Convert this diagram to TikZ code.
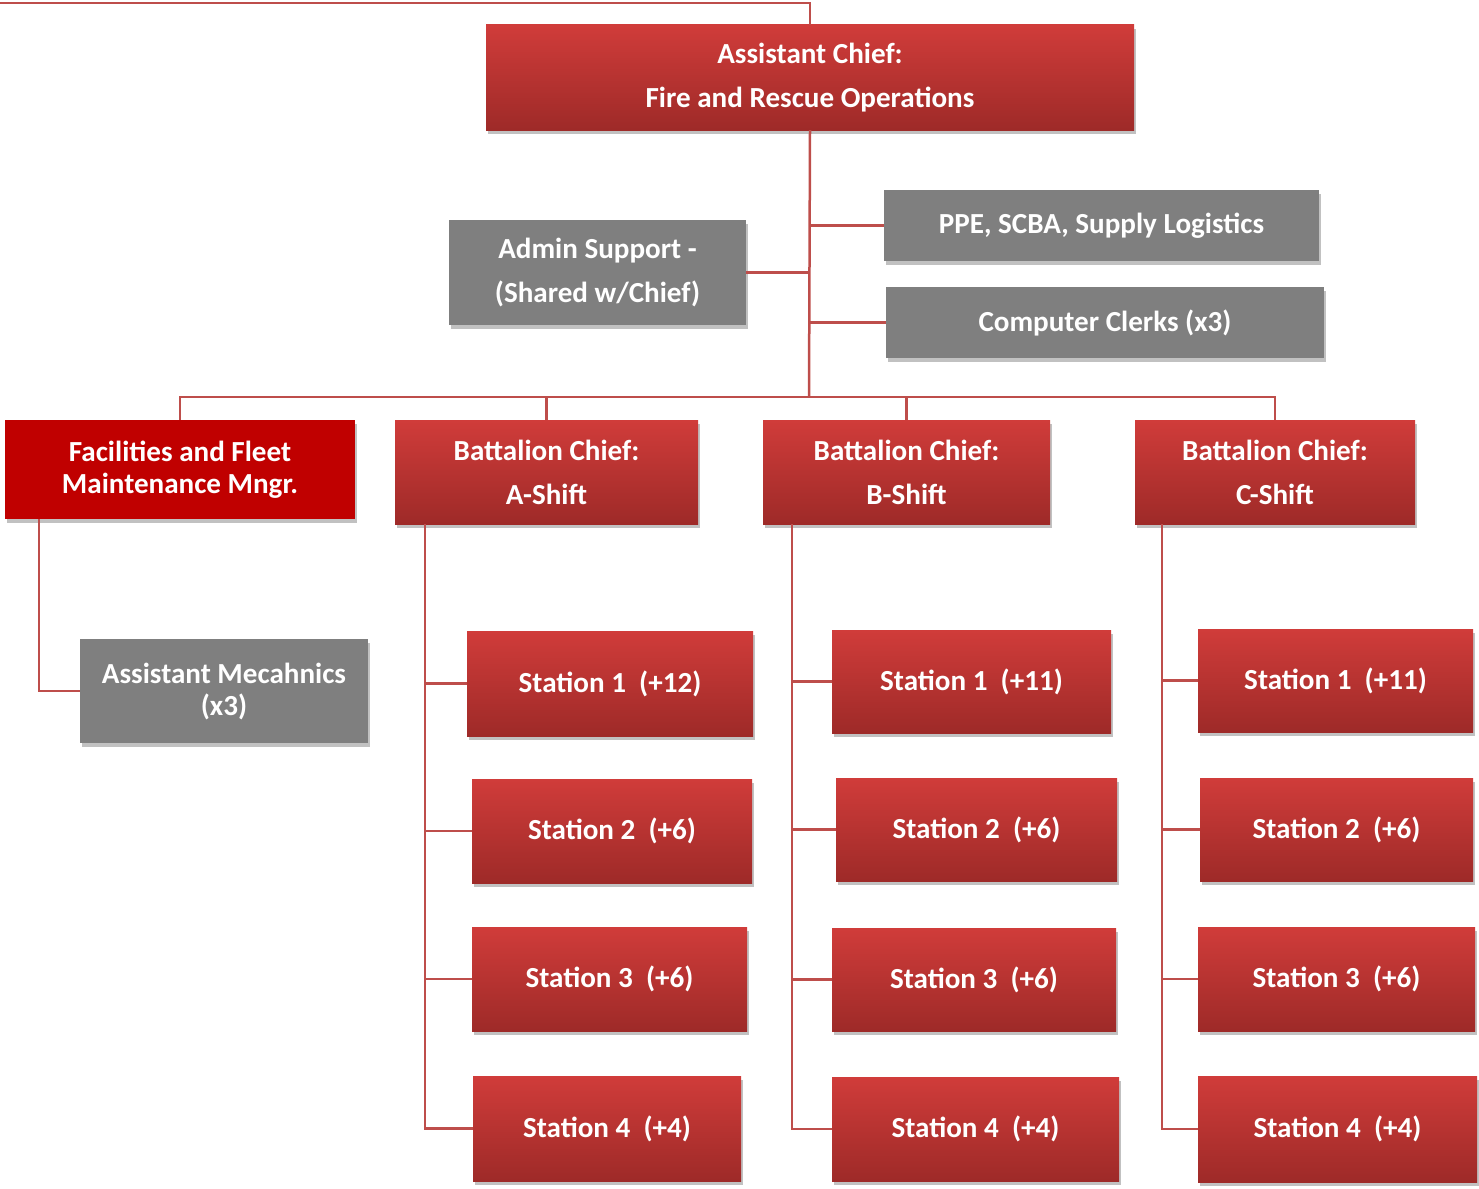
\documentclass[tikz,border=0pt]{standalone}
\usepackage{fontspec}
\setmainfont{Carlito}
\usetikzlibrary{shadows}
\definecolor{redtop}{RGB}{208,60,58}
\definecolor{redbot}{RGB}{158,42,40}
\definecolor{solidred}{RGB}{192,0,0}
\definecolor{boxgrey}{RGB}{127,127,127}
\definecolor{linered}{RGB}{190,78,75}
\tikzset{
  basebox/.style={rectangle, draw=none, text=white, align=center, inner sep=0pt,
    font=\bfseries\fontsize{29.1}{44}\selectfont,
    drop shadow={opacity=0.35, shadow xshift=2pt, shadow yshift=-4pt, fill=black!70}},
  redbox/.style={basebox, top color=redtop, bottom color=redbot},
  solidbox/.style={basebox, fill=solidred, font=\bfseries\fontsize{29.1}{32}\selectfont},
  greybox/.style={basebox, fill=boxgrey},
  tightgrey/.style={greybox, font=\bfseries\fontsize{29.1}{32}\selectfont},
  conn/.style={draw=linered, line width=2.5pt}
}
\begin{document}
\begin{tikzpicture}[x=1pt,y=-1pt]
\useasboundingbox (0,0) rectangle (1479,1188);
% nodes
\node[redbox, minimum width=648, minimum height=105] (top) at (810,77.5) {Assistant Chief:\\Fire and Rescue Operations};
\node[greybox, minimum width=435, minimum height=71] (ppe) at (1101.5,225.5) {PPE, SCBA, Supply Logistics};
\node[greybox, minimum width=297, minimum height=105] (admin) at (597.5,272.5) {Admin Support -\\(Shared w/Chief)};
\node[greybox, minimum width=438, minimum height=71] (clerks) at (1105,322.5) {Computer Clerks (x3)};
\node[solidbox, minimum width=350, minimum height=99] (fac) at (180,469.5) {Facilities and Fleet\\Maintenance Mngr.};
\node[redbox, minimum width=303, minimum height=104] (bcA) at (546.5,472) {Battalion Chief:\\A-Shift};
\node[redbox, minimum width=287, minimum height=104] (bcB) at (906.5,472) {Battalion Chief:\\B-Shift};
\node[redbox, minimum width=280, minimum height=104] (bcC) at (1275,472) {Battalion Chief:\\C-Shift};
\node[tightgrey, minimum width=288, minimum height=104] (mech) at (224,691) {Assistant Mecahnics\\(x3)};
% A-shift stations
\node[redbox, minimum width=286, minimum height=105] (a1) at (610,683.5) {Station 1~~(+12)};
\node[redbox, minimum width=280, minimum height=104] (a2) at (612,831) {Station 2~~(+6)};
\node[redbox, minimum width=275, minimum height=104] (a3) at (609.5,979) {Station 3~~(+6)};
\node[redbox, minimum width=268, minimum height=105] (a4) at (607,1128.5) {Station 4~~(+4)};
% B-shift stations
\node[redbox, minimum width=279, minimum height=103] (b1) at (971.5,681.5) {Station 1~~(+11)};
\node[redbox, minimum width=281, minimum height=103] (b2) at (976.5,829.5) {Station 2~~(+6)};
\node[redbox, minimum width=284, minimum height=103] (b3) at (974,979.5) {Station 3~~(+6)};
\node[redbox, minimum width=287, minimum height=104] (b4) at (975.5,1129) {Station 4~~(+4)};
% C-shift stations
\node[redbox, minimum width=275, minimum height=103] (c1) at (1335.5,680.5) {Station 1~~(+11)};
\node[redbox, minimum width=273, minimum height=103] (c2) at (1336.5,829.5) {Station 2~~(+6)};
\node[redbox, minimum width=277, minimum height=104] (c3) at (1336.5,979) {Station 3~~(+6)};
\node[redbox, minimum width=279, minimum height=106] (c4) at (1337.5,1129) {Station 4~~(+4)};
% coordinates
\coordinate (edge) at (0,3);
\coordinate (hub) at (809,397);
\coordinate (trunkF) at (39,519);
\coordinate (trunkA) at (425,524);
\coordinate (trunkB) at (792,524);
\coordinate (trunkC) at (1162,524);
% connectors
\draw[conn] (top.north) |- (edge);
\draw[conn] (top.south) -- (hub);
\draw[conn] (ppe.west) -- (ppe.west -| hub);
\draw[conn] (admin.east) -- (admin.east -| hub);
\draw[conn] (clerks.west) -- (clerks.west -| hub);
\draw[conn] (fac.north) -- (fac.north |- hub) -- (bcC.north |- hub) -- (bcC.north);
\draw[conn] (bcA.north) -- (bcA.north |- hub);
\draw[conn] (bcB.north) -- (bcB.north |- hub);
\draw[conn] (trunkF) |- (mech.west);
\draw[conn] (trunkA) |- (a4.west);
\draw[conn] (a1.west) -- (a1.west -| trunkA);
\draw[conn] (a2.west) -- (a2.west -| trunkA);
\draw[conn] (a3.west) -- (a3.west -| trunkA);
\draw[conn] (trunkB) |- (b4.west);
\draw[conn] (b1.west) -- (b1.west -| trunkB);
\draw[conn] (b2.west) -- (b2.west -| trunkB);
\draw[conn] (b3.west) -- (b3.west -| trunkB);
\draw[conn] (trunkC) |- (c4.west);
\draw[conn] (c1.west) -- (c1.west -| trunkC);
\draw[conn] (c2.west) -- (c2.west -| trunkC);
\draw[conn] (c3.west) -- (c3.west -| trunkC);
\end{tikzpicture}
\end{document}
